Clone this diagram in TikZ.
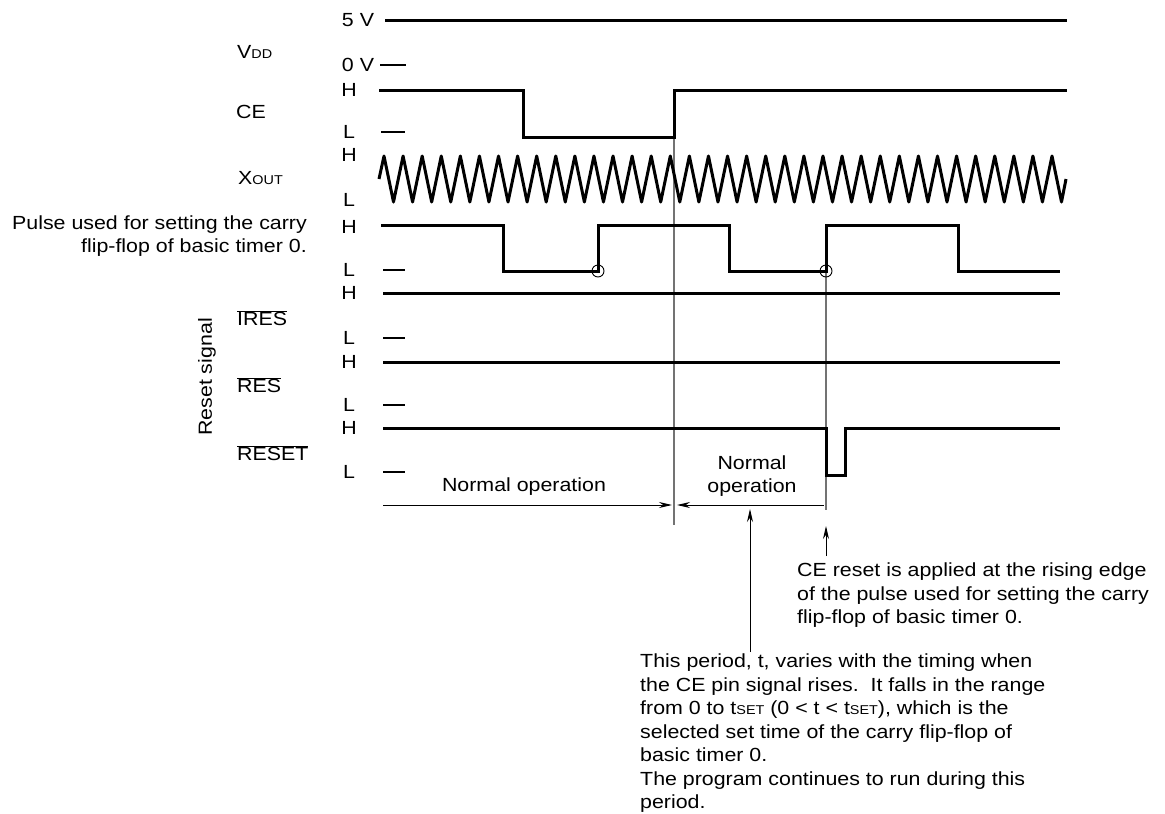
\documentclass[tikz,border=0pt]{standalone}
\usepackage{fontspec}
\setmainfont[FakeStretch=1.125]{Liberation Sans}
\usetikzlibrary{arrows.meta}
\newcommand{\subsc}[1]{{\fontsize{12.8}{12.8}\selectfont #1}}
\newcommand{\barsig}[1]{$\overline{\mbox{#1}}$}

\begin{document}
\begin{tikzpicture}[x=1pt,y=-1pt,every node/.style={font=\fontsize{19}{23.5}\selectfont,inner sep=0pt},
    sig/.style={line width=3pt},
    tick/.style={line width=2pt},
    guide/.style={line width=1.4pt,draw=black!55},
    dim/.style={line width=1pt,-{Stealth[length=13pt,width=6pt]}},
    signame/.style={anchor=west},
    note/.style={anchor=north west,align=left}]
    \useasboundingbox (0,0) rectangle (1165,814);
    % guide lines behind the signals
    \coordinate (ceup) at (674,137);
    \coordinate (ceend) at (674,525);
    \coordinate (cyup) at (826,271);
    \coordinate (cyend) at (826,510);
    \draw[guide] (ceup)--(ceend);
    \draw[guide] (cyup)--(cyend);
    % supply and CE
    \node (v5) at (358,20) {5 V};
    \node (v0) at (358,65) {0 V};
    \node[signame] (vdd) at (237,52) {V\subsc{DD}};
    \draw[sig] (385,20)--(1067,20);
    \draw[tick] (380,65)--(406,65);
    \node[signame] (ce) at (236,112) {CE};
    \draw[sig] (379,90)--(523,90)--(523,137)--(674,137)--(674,90)--(1067,90);
    \draw[tick] (381,132)--(405,132);
    % oscillator
    \node[signame] (xout) at (238,178) {X\subsc{OUT}};
    \draw[sig,line join=round] (379,179) \foreach \k in {0,...,35}{--({384+19.086*\k},156)--({393.5+19.086*\k},202)}--(1066,179);
    % carry pulse
    \node[anchor=east,align=right] (pulse) at (307,236) {Pulse used for setting the carry\\flip-flop of basic timer 0.};
    \draw[sig] (381,225)--(503,225)--(503,271)--(598,271)--(598,225)--(729,225)--(729,271)--(826,271)--(826,225)--(958,225)--(958,271)--(1060,271);
    \draw[tick] (383,270)--(405,270);
    \draw[line width=.9pt] (598,271) circle[radius=6pt];
    \draw[line width=.9pt] (826,271) circle[radius=6pt];
    % reset signals
    \node[rotate=90] (rst) at (207,377) {Reset signal};
    \node[signame] (ires) at (237,318) {\barsig{IRES}};
    \draw[sig] (383,293)--(1060,293);
    \draw[tick] (383,338)--(405,338);
    \node[signame] (res) at (237,385) {\barsig{RES}};
    \draw[sig] (383,362)--(1060,362);
    \draw[tick] (383,405)--(405,405);
    \node[signame] (reset) at (237,453) {\barsig{RESET}};
    \draw[sig] (383,428)--(826,428)--(826,475)--(845,475)--(845,428)--(1060,428);
    \draw[tick] (383,472)--(405,472);
    % levels
    \foreach \y/\t [count=\i] in {90/H,132/L,155/H,200/L,227/H,270/L,293/H,338/L,362/H,405/L,428/H,472/L}
      \node (lv\i) at (349,\y) {\t};
    % periods
    \coordinate (nl) at (383,505);
    \coordinate (nr) at (672,505);
    \coordinate (ml) at (677,505);
    \coordinate (mr) at (824,505);
    \node (norm1) at (524,487) {Normal operation};
    \node[align=center] (norm2) at (752,476) {Normal\\operation};
    \draw[dim] (nl)--(nr);
    \draw[dim,{Stealth[length=13pt,width=6pt]}-] (ml)--(mr);
    \node[note] (cenote) at (797,563) {CE reset is applied at the rising edge\\of the pulse used for setting the carry\\flip-flop of basic timer 0.};
    \node[note] (tnote) at (640,654) {This period, t, varies with the timing when\\the CE pin signal rises.\ \ It falls in the range\\from 0 to t\subsc{SET} (0 < t < t\subsc{SET}), which is the\\selected set time of the carry flip-flop of\\basic timer 0.\\The program continues to run during this\\period.};
    \coordinate (tup) at (750,509);
    \coordinate (tlow) at (750,652);
    \coordinate (cup) at (826,526);
    \coordinate (clow) at (826,556);
    \draw[dim] (tlow)--(tup);
    \draw[dim] (clow)--(cup);
  \end{tikzpicture}
\end{document}
